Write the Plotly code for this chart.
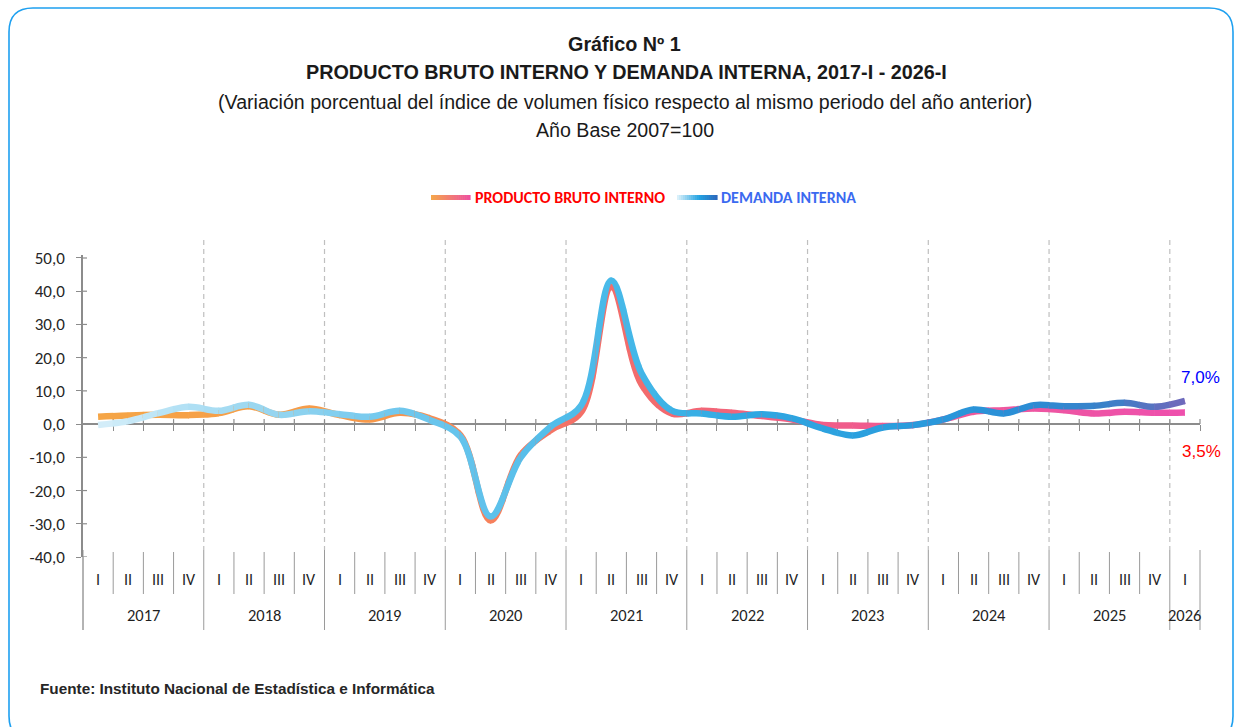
import plotly.graph_objects as go

# ---------------- data ----------------
years = ["2017", "2018", "2019", "2020", "2021", "2022", "2023", "2024", "2025", "2026"]
quarters = ["I", "II", "III", "IV"]
pbi = [2.2, 2.6, 2.8, 2.7, 3.3, 5.4, 2.8, 4.7, 2.7, 1.4, 3.4, 1.7,
       -3.3, -29.0, -9.3, -1.8, 3.6, 41.3, 12.0, 3.2, 4.0, 3.4, 2.4, 1.4,
       -0.3, -0.4, -0.6, -0.3, 1.4, 3.7, 4.2, 4.7, 4.2, 3.2, 3.7, 3.4, 3.5]
di = [-0.3, 0.9, 3.3, 5.2, 4.0, 5.8, 2.8, 3.9, 3.0, 2.2, 4.0, 1.2,
      -3.8, -27.8, -10.0, -0.7, 5.6, 43.2, 15.3, 4.1, 3.2, 2.2, 3.0, 1.7,
      -1.3, -3.4, -1.0, -0.3, 1.4, 4.4, 3.2, 5.7, 5.4, 5.5, 6.4, 5.2, 7.0]
y_ticks = [50, 40, 30, 20, 10, 0, -10, -20, -30, -40]
y_ticktext = ["50,0", "40,0", "30,0", "20,0", "10,0", "0,0", "-10,0", "-20,0", "-30,0", "-40,0"]
last_pbi_label = "3,5%"
last_di_label = "7,0%"
series_names = ["PRODUCTO BRUTO INTERNO", "DEMANDA INTERNA"]

n = len(pbi)
xs = [i + 0.5 for i in range(n)]
period_labels = [quarters[i % 4] for i in range(n)]

# ---------------- styling ----------------
W, H = 1236, 727
L, R, T, B = 83, 1200, 255, 557
Y0, Y1 = -40, 50.9
TITLE_FONT = "Liberation Sans Narrow, Arial Narrow, Liberation Sans, Arial, sans-serif"
LAB_FONT = "Carlito, Calibri, Lato, sans-serif"
AX_COL = "#8C8C8C"

pbi_stops = [(0, "#F5A646"), (10, "#F7984A"), (13, "#F7845A"), (16, "#F47266"),
             (19, "#F26A6E"), (22, "#F2637E"), (26, "#F05A8E"), (31, "#EE56A0"), (37, "#EE4FAE")]
di_stops = [(0, "#DDF1FA"), (3, "#B5E2F5"), (6, "#98D6F0"), (10, "#73C9EE"), (14, "#5BC0EB"),
            (18, "#45B8E8"), (22, "#2FA8E2"), (27, "#2A9DDD"), (31, "#2A8ED6"), (34, "#3A80C8"),
            (37, "#7D62B8")]


def hex2rgb(h):
    h = h.lstrip("#")
    return [int(h[i:i + 2], 16) for i in (0, 2, 4)]


def grad(stops, t):
    for (a, ca), (b, cb) in zip(stops[:-1], stops[1:]):
        if a <= t <= b:
            f = (t - a) / (b - a) if b > a else 0
            c1, c2 = hex2rgb(ca), hex2rgb(cb)
            return "rgb(%d,%d,%d)" % tuple(round(c1[j] + (c2[j] - c1[j]) * f) for j in range(3))
    return stops[-1][1] if t > stops[-1][0] else stops[0][1]


def fx(px):
    return (px - L) / (R - L)


def fy(py):
    return (B - py) / (B - T)


fig = go.Figure()

# main (invisible) trace on main axes so the subplot exists
fig.add_trace(go.Scatter(x=xs, y=pbi, mode="lines", line=dict(width=0, color="rgba(0,0,0,0)"),
                         hoverinfo="skip", showlegend=False))

# gradient lines: same spline drawn in many clipped strips
N = 74
eps = 0.6 / (R - L)
layout_axes = {}
for k in range(N):
    d0 = max(0.0, k / N - eps)
    d1 = (k + 1) / N
    ax_id = k + 2
    layout_axes["xaxis%d" % ax_id] = dict(domain=[d0, d1], range=[d0 * n, d1 * n], visible=False,
                                          anchor="y", fixedrange=True, showgrid=False, zeroline=False)
    tmid = (k + 0.5) / N * n
    fig.add_trace(go.Scatter(x=xs, y=pbi, xaxis="x%d" % ax_id, yaxis="y", mode="lines",
                             line=dict(shape="spline", width=6.5, color=grad(pbi_stops, tmid)),
                             hoverinfo="skip", showlegend=False))
    fig.add_trace(go.Scatter(x=xs, y=di, xaxis="x%d" % ax_id, yaxis="y", mode="lines",
                             line=dict(shape="spline", width=6.5, color=grad(di_stops, tmid)),
                             hoverinfo="skip", showlegend=False))

shapes = []
# outer rounded border
rad = 24
bx0, by0, bx1, by1 = 9, 8, 1233, 740
path = ("M %f %f L %f %f Q %f %f %f %f L %f %f Q %f %f %f %f L %f %f Q %f %f %f %f L %f %f Q %f %f %f %f Z" % (
    fx(bx0 + rad), fy(by0), fx(bx1 - rad), fy(by0), fx(bx1), fy(by0), fx(bx1), fy(by0 + rad),
    fx(bx1), fy(by1 - rad), fx(bx1), fy(by1), fx(bx1 - rad), fy(by1),
    fx(bx0 + rad), fy(by1), fx(bx0), fy(by1), fx(bx0), fy(by1 - rad),
    fx(bx0), fy(by0 + rad), fx(bx0), fy(by0), fx(bx0 + rad), fy(by0)))
shapes.append(dict(type="path", path=path, xref="paper", yref="paper",
                   line=dict(color="#1EA0F0", width=1.6), fillcolor="rgba(0,0,0,0)", layer="below"))

# dashed year lines
for b in range(4, n, 4):
    shapes.append(dict(type="line", xref="paper", yref="paper", x0=b / n, x1=b / n,
                       y0=fy(240), y1=fy(550), line=dict(color="#BFBFBF", width=1.2, dash="5px,4px"),
                       layer="below"))
# category separators
for b in range(0, n + 1):
    if b % 4 == 0 or b == n:
        shapes.append(dict(type="line", xref="paper", yref="paper", x0=b / n, x1=b / n,
                           y0=fy(550), y1=fy(630), line=dict(color="#9A9A9A", width=1), layer="below"))
    else:
        shapes.append(dict(type="line", xref="paper", yref="paper", x0=b / n, x1=b / n,
                           y0=fy(552), y1=fy(594), line=dict(color="#9A9A9A", width=1), layer="below"))
# y-axis inner tick stubs
for v in y_ticks:
    shapes.append(dict(type="line", xref="paper", yref="y", x0=0, x1=fx(87), y0=v, y1=v,
                       line=dict(color=AX_COL, width=1.2), layer="below"))
# x-axis upper tick stubs
zero_py = B - (0 - Y0) / (Y1 - Y0) * (B - T)
for b in range(1, n + 1):
    shapes.append(dict(type="line", xref="paper", yref="paper", x0=b / n, x1=b / n,
                       y0=fy(zero_py), y1=fy(zero_py - 5), line=dict(color=AX_COL, width=1.2),
                       layer="below"))

# legend gradient samples
def sample(x0p, x1p, ypx, stops, segs=20):
    out = []
    for s in range(segs):
        a = x0p + (x1p - x0p) * s / segs
        b2 = x0p + (x1p - x0p) * (s + 1) / segs + 0.6
        out.append(dict(type="line", xref="paper", yref="paper", x0=fx(a), x1=fx(b2), y0=fy(ypx),
                        y1=fy(ypx), line=dict(color=grad(stops, (s + 0.5) / segs * 100), width=5)))
    return out


leg_pbi = [(0, "#F5A84A"), (100, "#EE4FA0")]
leg_di = [(0, "#E2F4FB"), (55, "#24A3E2"), (100, "#2C68BC")]
shapes += sample(431, 470, 197.5, leg_pbi)
shapes += sample(677, 717, 197.5, leg_di)

annotations = []
titles = [("<b>Gráfico Nº 1</b>", 624, 44, 19.8),
          ("<b>PRODUCTO BRUTO INTERNO Y DEMANDA INTERNA, 2017-I - 2026-I</b>", 626, 72, 19.8),
          ("(Variación porcentual del índice de volumen físico respecto al mismo periodo del año anterior)", 625, 102, 19.6),
          ("Año Base 2007=100", 625, 130, 19.6)]
for txt, px, py, sz in titles:
    annotations.append(dict(text=txt, x=fx(px), y=fy(py), xref="paper", yref="paper", showarrow=False,
                            xanchor="center", yanchor="middle",
                            font=dict(family=TITLE_FONT, size=sz, color="#1A1A1A")))

annotations.append(dict(text="<b>" + series_names[0] + "</b>", x=fx(473), y=fy(197.5), xref="paper",
                        yref="paper", showarrow=False, xanchor="left", yanchor="middle",
                        font=dict(family=LAB_FONT, size=16, color="#FF0000")))
annotations.append(dict(text="<b>" + series_names[1] + "</b>", x=fx(719), y=fy(197.5), xref="paper",
                        yref="paper", showarrow=False, xanchor="left", yanchor="middle",
                        font=dict(family=LAB_FONT, size=16, color="#3B6AF0")))

# quarter labels and year labels
for i, q in enumerate(period_labels):
    annotations.append(dict(text=q, x=xs[i] / n, y=fy(579), xref="paper", yref="paper", showarrow=False,
                            xanchor="center", yanchor="middle",
                            font=dict(family=LAB_FONT, size=16, color="#1F1F1F")))
for j, yr in enumerate(years):
    span = min(4, n - 4 * j)
    annotations.append(dict(text=yr, x=(4 * j + span / 2) / n, y=fy(615), xref="paper", yref="paper",
                            showarrow=False, xanchor="center", yanchor="middle",
                            font=dict(family=LAB_FONT, size=16.5, color="#1F1F1F")))

# end value labels
annotations.append(dict(text=last_di_label, x=fx(1200), y=fy(377), xref="paper", yref="paper",
                        showarrow=False, xanchor="center", yanchor="middle",
                        font=dict(family="Liberation Sans, Arial, sans-serif", size=17, color="#0000FF")))
annotations.append(dict(text=last_pbi_label, x=fx(1201), y=fy(451), xref="paper", yref="paper",
                        showarrow=False, xanchor="center", yanchor="middle",
                        font=dict(family="Liberation Sans, Arial, sans-serif", size=17, color="#FF0000")))

annotations.append(dict(text="<b>Fuente: Instituto Nacional de Estadística e Informática</b>",
                        x=fx(38), y=fy(688), xref="paper", yref="paper", showarrow=False,
                        xanchor="left", yanchor="middle",
                        font=dict(family=TITLE_FONT, size=15.3, color="#262626")))

# y-axis line extension into the category area
shapes.append(dict(type="line", xref="paper", yref="paper", x0=0, x1=0, y0=fy(557), y1=fy(630),
                   line=dict(color="#9A9A9A", width=1)))

fig.update_layout(
    width=W, height=H,
    margin=dict(l=L, r=W - R, t=T, b=H - B, pad=0),
    paper_bgcolor="white", plot_bgcolor="rgba(0,0,0,0)",
    showlegend=False,
    xaxis=dict(domain=[0, 1], range=[0, n], anchor="free", position=(0 - Y0) / (Y1 - Y0),
               showline=True, linecolor=AX_COL, linewidth=1.5, ticks="outside", ticklen=6,
               tickcolor=AX_COL, tickwidth=1.2, tickvals=list(range(1, n + 1)), showticklabels=False,
               showgrid=False, zeroline=False, fixedrange=True),
    yaxis=dict(range=[Y0, Y1], tickvals=y_ticks, ticktext=y_ticktext, ticks="outside", ticklen=5,
               tickcolor=AX_COL, tickwidth=1.2, showline=True, linecolor=AX_COL, linewidth=1.5,
               showgrid=False, zeroline=False, ticklabelstandoff=8,
               tickfont=dict(family=LAB_FONT, size=17, color="#262626"), fixedrange=True),
    shapes=shapes,
    annotations=annotations,
    **layout_axes,
)

fig.write_html("out.html", config={"displayModeBar": False},
               post_script="document.body.style.margin='0';document.body.style.overflow='hidden';")
